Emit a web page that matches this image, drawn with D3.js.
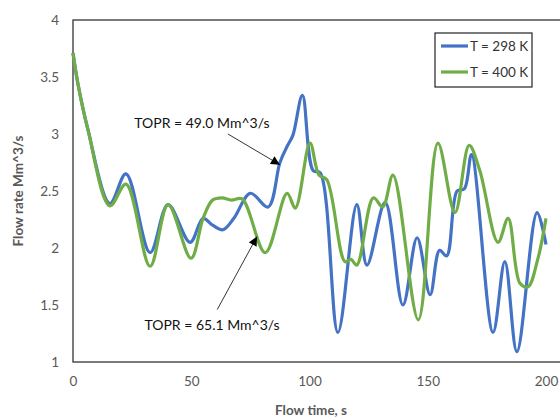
<!DOCTYPE html>
<html>
<head>
<meta charset="utf-8">
<script src="https://cdn.jsdelivr.net/npm/d3@7"></script>
<style>
  body { margin: 0; background: #fff; }
  svg { font-family: Lato, "Open Sans", sans-serif; }
</style>
</head>
<body>
<svg width="560" height="420"></svg>
<script>
// flow time, s  /  flow rate, Mm^3/s
const time298 = [0, 2, 6.3, 15.6, 22.4, 32.6, 40.2, 49.5, 55, 59, 63.4, 68, 75, 82.5, 87.5, 90.5, 93, 97, 101.5, 104.5, 112, 120, 124.3, 132, 139.5, 145.5, 151, 155, 158, 162.4, 165.5, 168.5, 177.6, 182.6, 187.7, 196.2, 200];
const flow298 = [3.71, 3.45, 3.04, 2.39, 2.65, 1.96, 2.38, 2.05, 2.26, 2.2, 2.16, 2.26, 2.48, 2.36, 2.75, 2.89, 2.99, 3.34, 2.68, 2.66, 1.26, 2.38, 1.85, 2.40, 1.50, 2.09, 1.59, 1.98, 1.93, 2.50, 2.52, 2.82, 1.26, 1.88, 1.09, 2.31, 2.03];

const time400 = [0, 2, 6.3, 15.6, 22.4, 32.6, 40.2, 49.9, 55, 59, 63, 67, 71.5, 81.3, 90.5, 94, 100.2, 104, 107.3, 115, 117.5, 120, 127, 131, 135.3, 146, 154.3, 161.5, 167.5, 172, 179.7, 184, 189, 192.4, 196.5, 200];
const flow400 = [3.71, 3.45, 3.04, 2.37, 2.56, 1.84, 2.38, 1.91, 2.26, 2.42, 2.44, 2.42, 2.43, 1.96, 2.48, 2.35, 2.92, 2.64, 2.6, 1.88, 1.9, 1.85, 2.44, 2.36, 2.64, 1.37, 2.92, 2.31, 2.9, 2.68, 2.05, 2.26, 1.69, 1.66, 1.9, 2.26];

const seriesNames = ["T = 298 K", "T = 400 K"];
const seriesColors = ["#4472C4", "#70AD47"];

const xTicks = [0, 50, 100, 150, 200];
const yTicks = [1, 1.5, 2, 2.5, 3, 3.5, 4];

// annotation: text anchor, arrow tail, arrow tip (data units)
const notes = [
  {text: "TOPR = 49.0 Mm^3/s", tx: 54.5, ty: 3.10, x1: 65.5, y1: 3.00, x2: 87.5, y2: 2.73},
  {text: "TOPR = 65.1 Mm^3/s", tx: 58.8, ty: 1.32, x1: 61.0, y1: 1.46, x2: 77.8, y2: 2.10}
];

var svg = d3.select("svg"),
    width = +svg.attr("width"),
    height = +svg.attr("height");

const margin = {left: 73, top: 20, right: 0, bottom: 58};

const x = d3.scaleLinear().domain([0, 200]).range([margin.left, 546]);
const y = d3.scaleLinear().domain([1, 4]).range([height - margin.bottom, margin.top]);

const textColor = "#595959";

// plot frame (right edge is cut off in the picture)
svg.append("rect")
   .attr("x", x(0)).attr("y", y(4))
   .attr("width", width + 10 - x(0)).attr("height", y(1) - y(4))
   .attr("fill", "none")
   .attr("stroke", "#222")
   .attr("stroke-width", 1.2);

// axes, labels only
const xAxis = svg.append("g")
   .attr("transform", `translate(0,${y(1)})`)
   .call(d3.axisBottom(x).tickValues(xTicks).tickSize(0).tickPadding(14));
const yAxis = svg.append("g")
   .attr("transform", `translate(${x(0)},0)`)
   .call(d3.axisLeft(y).tickValues(yTicks).tickSize(0).tickPadding(14)
         .tickFormat(d3.format("")));
[xAxis, yAxis].forEach(function(g) {
  g.select(".domain").remove();
  g.selectAll("text")
   .attr("fill", textColor)
   .style("font-family", "Lato, sans-serif")
   .style("font-size", "13.5px");
});

// axis titles
svg.append("text")
   .attr("x", 311).attr("y", 415)
   .attr("text-anchor", "middle")
   .attr("fill", textColor)
   .style("font-size", "13.5px")
   .style("font-weight", "bold")
   .text("Flow time, s");

svg.append("text")
   .attr("transform", `translate(23,191) rotate(-90)`)
   .attr("text-anchor", "middle")
   .attr("fill", textColor)
   .style("font-size", "13.5px")
   .style("font-weight", "bold")
   .text("Flow rate Mm^3/s");

// lines
const line = d3.line()
   .x(function(d) { return x(d[0]); })
   .y(function(d) { return y(d[1]); })
   .curve(d3.curveCatmullRom.alpha(0.5));

const series = [
  d3.zip(time298, flow298),
  d3.zip(time400, flow400)
];

svg.append("g")
   .selectAll("path")
   .data(series)
   .enter().append("path")
   .attr("d", line)
   .attr("fill", "none")
   .attr("stroke", function(d, i) { return seriesColors[i]; })
   .attr("stroke-width", 3.2)
   .attr("stroke-linejoin", "round");

// annotations
svg.append("defs").append("marker")
   .attr("id", "head")
   .attr("viewBox", "0 0 10 10")
   .attr("refX", 10).attr("refY", 5)
   .attr("markerWidth", 11).attr("markerHeight", 9)
   .attr("markerUnits", "userSpaceOnUse")
   .attr("orient", "auto")
   .append("path")
   .attr("d", "M0,0L10,5L0,10Z")
   .attr("fill", "#000");

const note = svg.append("g").selectAll("g")
   .data(notes)
   .enter().append("g");

note.append("line")
   .attr("x1", function(d) { return x(d.x1); })
   .attr("y1", function(d) { return y(d.y1); })
   .attr("x2", function(d) { return x(d.x2); })
   .attr("y2", function(d) { return y(d.y2); })
   .attr("stroke", "#000")
   .attr("stroke-width", 0.8)
   .attr("marker-end", "url(#head)");

note.append("text")
   .attr("x", function(d) { return x(d.tx); })
   .attr("y", function(d) { return y(d.ty); })
   .attr("dy", "0.35em")
   .attr("text-anchor", "middle")
   .attr("fill", "#111")
   .style("font-size", "14px")
   .text(function(d) { return d.text; });

// legend
const legend = svg.append("g").attr("transform", "translate(435,33)");
legend.append("rect")
   .attr("width", 97).attr("height", 54)
   .attr("fill", "#fff")
   .attr("stroke", "#222")
   .attr("stroke-width", 1.2);

const item = legend.selectAll("g.item")
   .data(seriesNames)
   .enter().append("g")
   .attr("class", "item")
   .attr("transform", function(d, i) { return `translate(0,${13 + i * 26})`; });

item.append("line")
   .attr("x1", 6).attr("x2", 33)
   .attr("stroke", function(d, i) { return seriesColors[i]; })
   .attr("stroke-width", 3.2);

item.append("text")
   .attr("x", 35)
   .attr("dy", "0.35em")
   .attr("fill", "#333")
   .style("font-size", "13.5px")
   .text(function(d) { return d; });
</script>
</body>
</html>
